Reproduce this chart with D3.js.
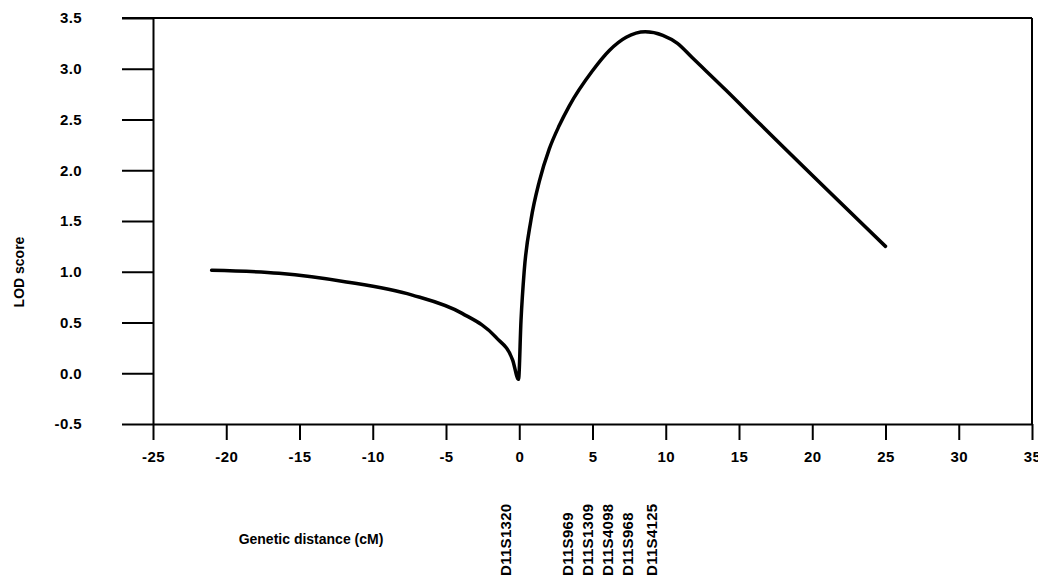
<!DOCTYPE html>
<html>
<head>
<meta charset="utf-8">
<script src="https://cdn.jsdelivr.net/npm/d3@7"></script>
<style>
  body { margin: 0; background: #fff; }
  svg text { font-family: "Liberation Sans", Arial, sans-serif; font-weight: bold; fill: #000; }
</style>
</head>
<body>
<div id="chart"></div>
<script>
// LOD curve
let distance = [-21, -16.4, -11.8, -7.3, -3.9, -1.6, -0.45, -0.05, 0.12, 0.34, 0.8, 1.37, 2.05, 2.73, 3.4, 5.0, 6.15, 7.3, 8.6, 9.8, 10.8, 11.8, 14.1, 16.4, 25];
let lod = [1.015, 0.985, 0.90, 0.77, 0.59, 0.355, 0.13, -0.06, 0.52, 1.01, 1.51, 1.89, 2.21, 2.44, 2.63, 2.98, 3.18, 3.31, 3.365, 3.33, 3.25, 3.11, 2.79, 2.46, 1.25];

// marker labels under the axis
let markerNames = ["D11S1320", "D11S969", "D11S1309", "D11S4098", "D11S968", "D11S4125"];
let markerPos = [-0.96, 3.28, 4.65, 6.0, 7.4, 9.0];

let xTicks = [-25, -20, -15, -10, -5, 0, 5, 10, 15, 20, 25, 30, 35];
let yTicks = [-0.5, 0, 0.5, 1, 1.5, 2, 2.5, 3, 3.5];

let svgWidth = 1038;
let svgHeight = 578;
let margin = { top: 18, right: 6, bottom: 154, left: 153 };

let svg = d3.select("#chart")
  .append("svg")
  .attr("width", svgWidth)
  .attr("height", svgHeight);

let x = d3.scaleLinear().domain([-25, 35]).range([margin.left, svgWidth - margin.right]);
let y = d3.scaleLinear().domain([-0.5, 3.5]).range([svgHeight - margin.bottom, margin.top]);

// frame top and right
svg.append("line")
  .attr("x1", x(-25) - 31).attr("x2", x(35))
  .attr("y1", y(3.5)).attr("y2", y(3.5))
  .attr("stroke", "#000").attr("stroke-width", 2);
svg.append("line")
  .attr("x1", x(35)).attr("x2", x(35))
  .attr("y1", y(3.5)).attr("y2", y(-0.5))
  .attr("stroke", "#000").attr("stroke-width", 2);

let xAxis = svg.append("g")
  .attr("transform", "translate(0," + y(-0.5) + ")")
  .call(d3.axisBottom(x).tickValues(xTicks).tickSize(16).tickSizeOuter(0).tickPadding(11)
    .tickFormat(function(d) { return String(d); }));

let yAxis = svg.append("g")
  .attr("transform", "translate(" + x(-25) + ",0)")
  .call(d3.axisLeft(y).tickValues(yTicks).tickSize(31).tickSizeOuter(0).tickPadding(40)
    .tickFormat(function(d) { return d.toFixed(1); }));

[xAxis, yAxis].forEach(function(g) {
  g.attr("font-family", null).attr("font-size", null);
  g.selectAll("path, line").attr("stroke", "#000").attr("stroke-width", 2);
  g.selectAll("text").attr("font-size", 15).attr("letter-spacing", 0.4);
});

// curve
let line = d3.line()
  .x(function(d, i) { return x(distance[i]); })
  .y(function(d, i) { return y(lod[i]); })
  .curve(d3.curveMonotoneX);

svg.append("path")
  .datum(lod)
  .attr("d", line)
  .attr("fill", "none")
  .attr("stroke", "#000")
  .attr("stroke-width", 3.5)
  .attr("stroke-linecap", "round")
  .attr("stroke-linejoin", "round");

// axis titles
svg.append("text")
  .attr("transform", "translate(24,272) rotate(-90)")
  .attr("text-anchor", "middle")
  .attr("font-size", 14)
  .text("LOD score");

svg.append("text")
  .attr("x", 311)
  .attr("y", 544)
  .attr("text-anchor", "middle")
  .attr("font-size", 14)
  .text("Genetic distance (cM)");

// marker labels
svg.selectAll(".marker")
  .data(markerNames)
  .enter()
  .append("text")
  .attr("class", "marker")
  .attr("transform", function(d, i) { return "translate(" + (x(markerPos[i]) + 5.5) + ",576) rotate(-90)"; })
  .attr("text-anchor", "start")
  .attr("font-size", 15)
  .attr("letter-spacing", 0.3)
  .text(function(d) { return d; });
</script>
</body>
</html>
